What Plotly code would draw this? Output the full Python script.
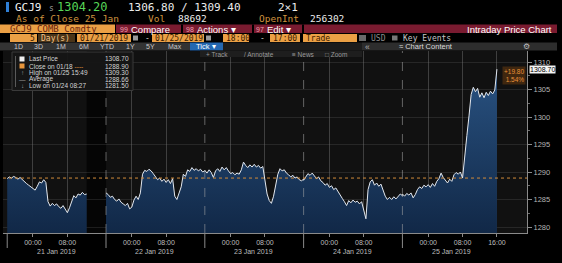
import plotly.graph_objects as go

W, H = 562, 263

# ---------------- data ----------------
ticker = "GCJ9"
last_quote = "1304.20"
bid_ask = "1306.80 / 1309.40"
size_txt = "2\u00d71"
as_of = "As of Close 25 Jan"
volume = "88692"
open_int = "256302"
security = "GCJ9 COMB Comdty"
start_date = "01/21/2019"
end_date = "01/25/2019"
start_time = "18:00"
end_time = "17:00"
n_days = "5"

day_labels = ["21 Jan 2019", "22 Jan 2019", "23 Jan 2019", "24 Jan 2019", "25 Jan 2019"]
session_hours = 23          # trading hours per session (18:00 -> 17:00)
step_hours = 0.5            # sampling step of the price lists below

# prices every 30 min from the 18:00 open of each session
p_jan21 = [1288.8, 1289.1, 1288.9, 1289.2, 1289.0, 1288.7, 1289.0, 1288.6, 1288.2, 1287.9,
           1287.6, 1287.3, 1286.9, 1286.7, 1287.4, 1288.2, 1288.0, 1288.6, 1288.1, 1284.6,
           1283.8, 1284.3, 1283.9, 1284.2, 1283.7, 1283.4, 1283.9, 1283.2, 1282.6, 1283.5,
           1284.8, 1285.7, 1285.3, 1286.0, 1285.8, 1286.3, 1285.9, 1286.0]
p_jan22 = [1286.2, 1285.9, 1285.4, 1285.6, 1285.0, 1284.7, 1285.1, 1284.5, 1284.2, 1283.9,
           1284.3, 1283.3, 1283.6, 1284.9, 1285.6, 1285.0, 1286.2, 1289.6, 1290.3, 1290.1,
           1290.5, 1290.2, 1289.7, 1289.1, 1288.6, 1288.9, 1288.3, 1288.7, 1288.1, 1288.6,
           1287.9, 1288.8, 1285.6, 1285.0, 1286.4, 1287.3, 1289.6, 1289.2, 1290.4, 1290.1,
           1290.8, 1290.3, 1290.6, 1290.2, 1290.5, 1290.0, 1290.2]
p_jan23 = [1290.3, 1289.8, 1290.4, 1289.9, 1289.0, 1290.2, 1290.6, 1290.1, 1290.9, 1290.4,
           1290.8, 1290.2, 1289.7, 1289.9, 1289.5, 1289.8, 1289.6, 1290.4, 1291.8, 1291.2,
           1290.8, 1291.3, 1290.9, 1291.4, 1290.9, 1291.2, 1290.7, 1291.0, 1288.0, 1286.0,
           1284.8, 1284.3, 1285.6, 1287.4, 1289.6, 1290.6, 1290.2, 1290.4, 1289.8, 1289.5,
           1289.1, 1289.4, 1288.9, 1289.1, 1288.6, 1288.4, 1288.7]
p_jan24 = [1288.5, 1289.1, 1289.7, 1289.4, 1289.8, 1289.3, 1288.8, 1289.1, 1288.4, 1288.1,
           1287.6, 1287.9, 1287.2, 1287.5, 1286.8, 1287.1, 1286.4, 1285.9, 1285.2, 1284.6,
           1283.9, 1284.8, 1284.4, 1284.9, 1284.5, 1284.7, 1284.2, 1284.6, 1283.0, 1281.5,
           1286.8, 1288.2, 1288.6, 1287.6, 1288.0, 1287.4, 1287.8, 1286.5, 1285.6, 1285.0,
           1285.4, 1285.0, 1285.5, 1285.1, 1285.6, 1286.0, 1285.7]
p_jan25 = [1286.0, 1285.6, 1286.1, 1285.8, 1286.2, 1285.3, 1285.9, 1286.8, 1287.3, 1287.0,
           1287.6, 1287.3, 1287.7, 1287.2, 1287.9, 1287.4, 1288.3, 1288.8, 1289.8, 1289.0,
           1288.4, 1288.0, 1288.7, 1288.3, 1289.5, 1289.9, 1289.6, 1290.0, 1288.9, 1293.4,
           1296.6, 1300.2, 1304.1, 1305.4, 1304.6, 1305.2, 1303.6, 1304.4, 1303.5, 1304.5,
           1303.9, 1304.7, 1304.2, 1304.9, 1308.7]
days = [p_jan21, p_jan22, p_jan23, p_jan24, p_jan25]

tick_times = ["00:00", "08:00"]
tick_offsets = [6, 14]            # hours after the 18:00 open
last_tick_time = "16:00"
last_tick_offset = 22
y_ticks = [1280, 1285, 1290, 1295, 1300, 1305, 1310]

prev_close = 1288.90
last_price = 1308.70
legend_labels = ["Last Price", "Close on 01/18", "High on 01/25 15:49", "Average", "Low on 01/24 08:27"]
legend_values = [1308.70, 1288.90, 1309.30, 1288.66, 1281.50]
change_abs = "+19.80"
change_pct = "1.54%"

period_buttons = ["1D", "3D", "1M", "6M", "YTD", "1Y", "5Y", "Max"]

# ---------------- geometry ----------------
PL, PR, PT, PB = 3, 527, 51, 233
MONO = "DejaVu Sans Mono"
SANS = "Liberation Sans"


def fx(px):
    return (px - PL) / (PR - PL)


def fy(py):
    return (PB - py) / (PB - PT)


shapes, annotations = [], []


def rect(x0, y0, x1, y1, color, line=None, layer="above"):
    shapes.append(dict(type="rect", xref="paper", yref="paper",
                       x0=fx(x0), x1=fx(x1), y0=fy(y1), y1=fy(y0),
                       fillcolor=color, layer=layer,
                       line=line or dict(width=0)))


def txt(x, y, s, color, size, family=SANS, xanchor="left", bg=None):
    a = dict(xref="paper", yref="paper", x=fx(x), y=fy(y), text=s, showarrow=False,
             xanchor=xanchor, yanchor="middle", borderpad=0,
             font=dict(family=family, size=size, color=color))
    if bg:
        a["bgcolor"] = bg
    annotations.append(a)


# ---------------- traces ----------------
fig = go.Figure()
grad = dict(type="vertical", colorscale=[[0, "#112847"], [1, "#2a5484"]],
            start=1279, stop=1310)

seg_a_x = [k * step_hours for k in range(len(p_jan21))]
seg_a_y = list(p_jan21)
seg_b_x, seg_b_y = [], []
for d in range(1, len(days)):
    seg_b_x += [d * session_hours + k * step_hours for k in range(len(days[d]))]
    seg_b_y += days[d]

for xs, ys in [(seg_a_x, seg_a_y), (seg_b_x, seg_b_y)]:
    fig.add_trace(go.Scatter(x=xs, y=ys, mode="lines", fill="tozeroy",
                             fillgradient=grad,
                             line=dict(color="#e3e8ef", width=1),
                             hoverinfo="skip", showlegend=False))

# gap (holiday early close) band
shapes.append(dict(type="rect", xref="x", yref="paper", x0=seg_a_x[-1], x1=session_hours,
                   y0=0, y1=1, fillcolor="#050505", line=dict(width=0), layer="below"))

# day boundaries
for d in range(len(days)):
    if d > 0:
        shapes.append(dict(type="line", xref="x", yref="paper", x0=d * session_hours,
                           x1=d * session_hours, y0=0, y1=1,
                           line=dict(color="rgba(170,170,170,0.55)", width=1, dash="dash"),
                           layer="above"))
    shapes.append(dict(type="line", xref="x", yref="paper", x0=d * session_hours,
                       x1=d * session_hours, y0=fy(233), y1=fy(248),
                       line=dict(color="#8a8a8a", width=1)))
    annotations.append(dict(xref="x", yref="paper", x=d * session_hours + 11.4, y=fy(251),
                            text=day_labels[d], showarrow=False, xanchor="center",
                            yanchor="middle",
                            font=dict(family=SANS, size=7, color="#bdbdbd")))

# previous close dotted line
shapes.append(dict(type="line", xref="paper", yref="y", x0=0, x1=1, y0=prev_close,
                   y1=prev_close, line=dict(color="#d08a3a", width=1, dash="dot"),
                   layer="above"))

tickvals, ticktext = [], []
for d in range(len(days)):
    for t, o in zip(tick_times, tick_offsets):
        tickvals.append(d * session_hours + o)
        ticktext.append(t)
tickvals.append((len(days) - 1) * session_hours + last_tick_offset)
ticktext.append(last_tick_time)

# ---------------- header ----------------
rect(6, 2, 9, 12, "#2f7fd6")
txt(14, 7.5, ticker, "#f2f2f2", 11, MONO)
txt(48, 8.5, "s", "#9a9a9a", 8, MONO)
txt(56, 7.5, last_quote, "#57d657", 12, MONO)
txt(127, 7.5, bid_ask, "#ececec", 11, MONO)
txt(277, 7.5, size_txt, "#ececec", 11, MONO)

txt(15, 18.5, as_of, "#cf933f", 9.5, MONO)
txt(147, 18.5, "Vol", "#cf933f", 9.5, MONO)
txt(177, 18.5, volume, "#ececec", 9.5, MONO)
txt(258, 18.5, "OpenInt", "#cf933f", 9.5, MONO)
txt(309, 18.5, open_int, "#ececec", 9.5, MONO)

# row 3
rect(0, 24.5, 115, 33, "#eba045")
rect(116, 24.5, 557, 33, "#7a1b30")
for sx in (181, 252, 302):
    rect(sx, 24.5, sx + 2, 33, "#000000")
txt(9, 29.2, security, "#6a1e0c", 9, MONO)
txt(119, 29.2, "99", "#f0a0b0", 7)
txt(130, 29.2, "Compare", "#ffffff", 9.5)
txt(185, 29.2, "98", "#f0a0b0", 7)
txt(196, 29.2, "Actions \u25be", "#ffffff", 9.5)
txt(255, 29.2, "97", "#f0a0b0", 7)
txt(266, 29.2, "Edit \u25be", "#ffffff", 9.5)
txt(553, 29.2, "Intraday Price Chart", "#ffffff", 9.5, xanchor="right")

# row 4
ORANGE = "#eba045"
DARK = "#3a1a00"
rect(10, 34, 37, 42, ORANGE)
txt(36, 38, n_days, DARK, 8, MONO, xanchor="right")
rect(38, 34, 75, 42, "#4a3418")
txt(40, 38, "Day(s)", "#f3c58a", 8, MONO)
rect(77, 34, 131, 42, ORANGE)
txt(79, 38, start_date, DARK, 8, MONO)
rect(133, 35.5, 138, 40.5, "#9a9a9a")
txt(144, 38, "-", "#d0d0d0", 8, MONO)
rect(152, 34, 204, 42, ORANGE)
txt(154, 38, end_date, DARK, 8, MONO)
rect(206, 35.5, 211, 40.5, "#9a9a9a")
rect(223, 34, 249, 42, ORANGE)
txt(225, 38, start_time, DARK, 8, MONO)
txt(259, 38, "-", "#d0d0d0", 8, MONO)
rect(270, 34, 300, 42, ORANGE)
txt(272, 38, end_time, DARK, 8, MONO)
rect(303, 34, 357, 42, ORANGE)
txt(305, 38, "Trade", DARK, 8, MONO)
rect(359, 35, 366, 41, "#6a6a6a")
txt(370, 38, "USD", "#8a8a8a", 8, MONO)
rect(392, 35.5, 397.5, 40.5, "#777777")
txt(402, 38, "Key Events", "#c4c4c4", 8, MONO)

# row 5
rect(0, 42.5, 190, 50.5, "#333333")
rect(190, 42.5, 223, 50.5, "#2467b0")
rect(223, 42.5, 362, 50.5, "#1c1c1c")
rect(362, 42.5, 557, 50.5, "#2d2d2d")
bx = [13, 33, 55, 78, 99, 125, 145, 167]
for b, x in zip(period_buttons, bx):
    txt(x, 46.5, b, "#c8c8c8", 7)
txt(195, 46.5, "Tick \u25be", "#ffffff", 7.5)
txt(364, 46.5, "\u00ab", "#b0b0b0", 8.5)
txt(398, 46.5, "\u2248 Chart Content", "#dcdcdc", 7.5)
txt(526, 46.5, "\u2699", "#bdbdbd", 7.5, xanchor="center")

# chart toolbar
rect(200, 50.5, 362, 57, "#1e1e1e")
txt(205, 54, "+ Track", "#9a9a9a", 6.5)
txt(243, 54, "/ Annotate", "#9a9a9a", 6.5)
txt(291, 54, "\u2261 News", "#9a9a9a", 6.5)
txt(324, 54, "\u25a1 Zoom", "#9a9a9a", 6.5)

# legend panel
rect(12, 52, 133, 90.5, "rgba(22,22,22,0.95)", line=dict(color="#3a3a3a", width=1))
shapes.append(dict(type="line", xref="paper", yref="paper", x0=fx(15.5), x1=fx(15.5),
                   y0=fy(56), y1=fy(87), line=dict(color="#5a5a5a", width=1)))
leg_y = [59, 66, 72.5, 79, 85.5]
rect(19.5, 56.5, 24.5, 61.5, "#f0f0f0")
rect(19.5, 63.5, 24.5, 68.5, "#e8963c")
txt(22, leg_y[2], "\u2191", "#9a9a9a", 6.5, xanchor="center")
txt(22, leg_y[3], "\u2014", "#9a9a9a", 6.5, xanchor="center")
txt(22, leg_y[4], "\u2193", "#9a9a9a", 6.5, xanchor="center")
for i, (lab, val) in enumerate(zip(legend_labels, legend_values)):
    s = lab
    if i == 1:
        s = lab + ' <span style="color:#e8963c">----</span>'
    txt(28, leg_y[i], s, "#d4d4d4", 6.5)
    txt(130, leg_y[i], f"{val:.2f}", "#d4d4d4", 6.5, xanchor="right")

# right side labels
annotations.append(dict(xref="paper", yref="y", x=fx(529), y=last_price,
                        text=f"{last_price:.2f}", showarrow=False, xanchor="left",
                        yanchor="middle", bgcolor="#f4f4f4", borderpad=0,
                        font=dict(family=SANS, size=7, color="#000000")))
annotations.append(dict(xref="paper", yref="paper", x=fx(526), y=fy(75),
                        text=f"{change_abs}<br>{change_pct}", showarrow=False,
                        xanchor="right", yanchor="middle", align="right",
                        bgcolor="rgba(70,42,15,0.9)", borderpad=1,
                        font=dict(family=SANS, size=6.5, color="#e8923a")))

fig.update_layout(
    width=W, height=H,
    margin=dict(l=PL, r=W - PR, t=PT, b=H - PB),
    paper_bgcolor="#000000",
    plot_bgcolor="#111111",
    showlegend=False,
    shapes=shapes,
    annotations=annotations,
    xaxis=dict(range=[-0.98, 121.0], tickvals=tickvals, ticktext=ticktext,
               showgrid=True, gridcolor="rgba(150,150,150,0.35)", gridwidth=1,
               zeroline=False, showline=True, linecolor="#8a8a8a", linewidth=1,
               ticks="outside", ticklen=3, tickcolor="#8a8a8a",
               tickfont=dict(family=SANS, size=7, color="#bdbdbd"), fixedrange=True),
    yaxis=dict(range=[1278.91, 1312.0], side="right", tickvals=y_ticks,
               showgrid=True, gridcolor="rgba(120,120,120,0.22)", zeroline=False,
               showline=True, linecolor="#8a8a8a", linewidth=1,
               ticks="outside", ticklen=4, tickcolor="#8a8a8a",
               minor=dict(dtick=2.5, ticks="outside", ticklen=2, tickcolor="#6a6a6a",
                          showgrid=False),
               tickfont=dict(family=SANS, size=7.5, color="#b5b5b5"), fixedrange=True),
)

fig.write_html("out.html")
